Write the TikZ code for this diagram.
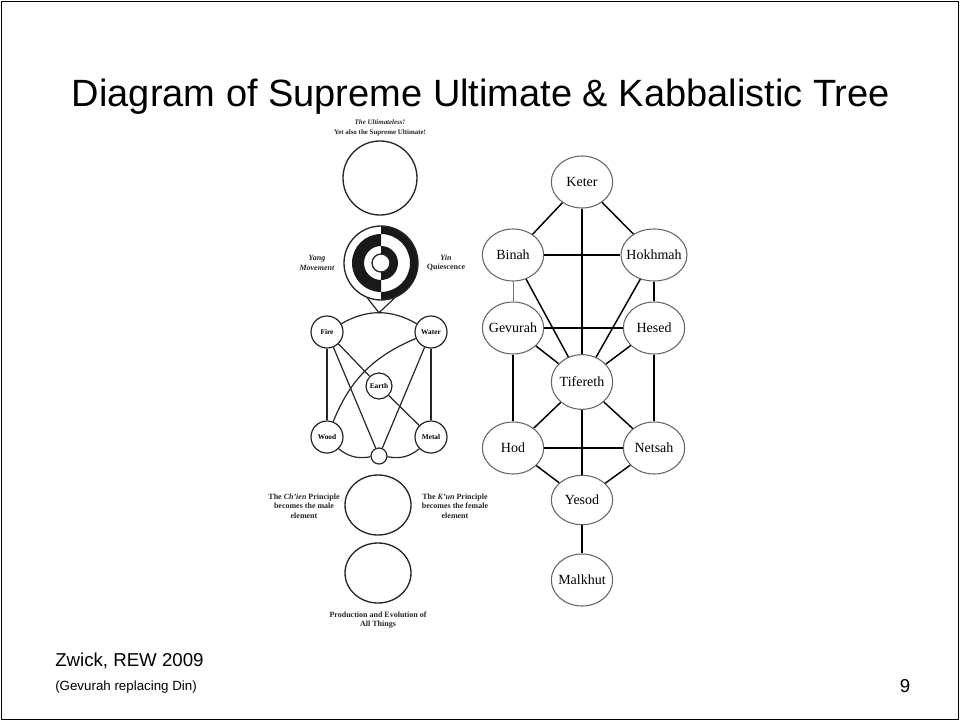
\documentclass[tikz,border=0pt]{standalone}
\usepackage{fontspec}
\setmainfont{Liberation Serif}
\setsansfont{Liberation Sans}
\usetikzlibrary{shapes.geometric, positioning}

\tikzset{
  bond/.style = {line width = 1.1pt, black},
  scanLine/.style = {line width = 0.9pt, black!85},
  sefira/.style = {ellipse, draw = black!60, line width = 0.8pt, fill = white,
    minimum width = 46pt, minimum height = 39pt, inner sep = 0pt,
    font = \fontsize{10.5}{12}\selectfont},
  element/.style = {circle, draw = black!85, line width = 0.9pt, fill = white,
    minimum size = 24pt, inner sep = 0pt, font = \fontsize{5.5}{6}\selectfont\bfseries},
  bigCircle/.style = {ellipse, draw = black!85, line width = 1pt, inner sep = 0pt,
    minimum width = 55.5pt, minimum height = 55.5pt},
  scan/.style = {align = center, inner sep = 0pt, text = black!85,
    font = \fontsize{6}{7.2}\selectfont\bfseries},
  slideText/.style = {inner sep = 0pt, font = \sffamily\fontsize{14}{17}\selectfont},
}

\begin{document}
\begin{tikzpicture}[x = 0.75pt, y = -0.75pt]
  \def\ringA{37}
  \def\ringB{29}
  \def\ringC{17}
  \def\ringD{9}
  \def\sefiraLabel#1{\makebox[0pt]{#1}}

  \useasboundingbox (0, 0) rectangle (960, 721);
  \draw[line width = 1.1pt] (1.5, 1.5) rectangle (958.5, 719.5);

  \node[font = \sffamily\fontsize{28.5}{34}\selectfont] (title) at (481, 97)
    {Diagram of Supreme Ultimate \& Kabbalistic Tree};

  % ------------------------
  % supreme ultimate (left)
  % ------------------------

  \node[scan, font = \fontsize{5.2}{7.5}\selectfont\bfseries] (ultimateless) at (380, 128)
    {\textit{The Ultimateless!}\\Yet also the Supreme Ultimate!};

  \node[bigCircle] (wuji) at (380, 178) {};

  \begin{scope}[shift = {(381, 263)}]
    % left half: one black ring
    \fill[black!90] (90:\ringB) arc[start angle = 90, end angle = 270, radius = \ringB]
      -- (270:\ringC) arc[start angle = 270, end angle = 90, radius = \ringC] -- cycle;
    % right half: two black rings
    \fill[black!90] (-90:\ringA) arc[start angle = -90, end angle = 90, radius = \ringA]
      -- (90:\ringB) arc[start angle = 90, end angle = -90, radius = \ringB] -- cycle;
    \fill[black!90] (-90:\ringC) arc[start angle = -90, end angle = 90, radius = \ringC]
      -- (90:\ringD) arc[start angle = 90, end angle = -90, radius = \ringD] -- cycle;
  \end{scope}
  \node[bigCircle] (taiji) at (381, 263) {};
  \node[bigCircle, minimum width = 13.5pt, minimum height = 13.5pt] (taijiCore) at (381, 263) {};

  \node[scan] (yang) at (317, 263) {\textit{Yang}\\\textit{Movement}};
  \node[scan] (yin) at (446, 263) {\textit{Yin}\\Quiescence};

  % five elements
  \node[element] (fire) at (327, 332) {Fire};
  \node[element] (water) at (431, 332) {Water};
  \node[element, minimum size = 19.5pt] (earth) at (379, 386) {Earth};
  \node[element] (wood) at (327, 437) {Wood};
  \node[element] (metal) at (431, 437) {Metal};
  \node[element, minimum size = 12pt] (dot) at (379, 456) {};

  \draw[scanLine] (fire) to[bend left = 30] node[coordinate, pos = 0.5] (apex) {} (water);
  \draw[scanLine] (taiji.249) to (apex) to (taiji.291);
  \draw[scanLine] (wood) to[bend right = 25] (dot);
  \draw[scanLine] (dot) to[bend right = 25] (metal);
  \draw[scanLine] (fire) to (wood);
  \draw[scanLine] (water) to (metal);
  \draw[scanLine] (fire) to (dot);
  \draw[scanLine] (fire) to (earth);
  \draw[scanLine] (water) to (dot);
  \draw[scanLine] (earth) to (metal);
  \draw[scanLine] (water) to[out = 203, in = 68] (wood);

  \node[bigCircle, minimum width = 49.5pt, minimum height = 45pt] (qian) at (378, 505) {};
  \node[bigCircle, minimum width = 49.5pt, minimum height = 45pt] (wanwu) at (378, 573) {};

  \node[scan] (qianText) at (304, 506) {The \textit{Ch'ien} Principle\\becomes the male\\element};
  \node[scan] (kunText) at (455, 506) {The \textit{K'un} Principle\\becomes the female\\element};
  \node[scan] (wanwuText) at (378, 620) {Production and Evolution of\\All Things};

  % ------------------------
  % kabbalistic tree (right)
  % ------------------------

  \node[sefira] (keter) at (582, 182) {\sefiraLabel{Keter}};
  \node[sefira] (binah) at (513, 255) {\sefiraLabel{Binah}};
  \node[sefira, minimum width = 49.5pt] (hokhmah) at (654, 255) {\sefiraLabel{Hokhmah}};
  \node[sefira] (gevurah) at (513, 328) {\sefiraLabel{Gevurah}};
  \node[sefira] (hesed) at (654, 328) {\sefiraLabel{Hesed}};
  \node[sefira, minimum height = 41pt] (tifereth) at (582, 382) {\sefiraLabel{Tifereth}};
  \node[sefira] (hod) at (513, 448) {\sefiraLabel{Hod}};
  \node[sefira] (netsah) at (654, 448) {\sefiraLabel{Netsah}};
  \node[sefira, minimum height = 37pt] (yesod) at (582, 500) {\sefiraLabel{Yesod}};
  \node[sefira] (malkhut) at (582, 580) {\sefiraLabel{Malkhut}};

  \foreach \src/\dst in {keter/binah, keter/hokhmah, keter/tifereth, binah/hokhmah,
      hokhmah/hesed, binah/tifereth, hokhmah/tifereth, gevurah/hesed,
      gevurah/tifereth, hesed/tifereth, gevurah/hod, hesed/netsah,
      tifereth/hod, tifereth/netsah, tifereth/yesod, hod/netsah,
      hod/yesod, netsah/yesod, yesod/malkhut} {
    \draw[bond] (\src) to (\dst);
  }
  \draw[bond, line width = 0.7pt, black!55] (binah) to (gevurah);

  % ------------------------
  % footer
  % ------------------------

  \node[slideText, anchor = base west] (source) at (55, 666) {Zwick, REW 2009};
  \node[slideText, anchor = base west, font = \sffamily\fontsize{10}{12}\selectfont] (note) at (55, 690)
    {(Gevurah replacing Din)};
  \node[slideText] (page) at (905, 686) {9};
\end{tikzpicture}
\end{document}
